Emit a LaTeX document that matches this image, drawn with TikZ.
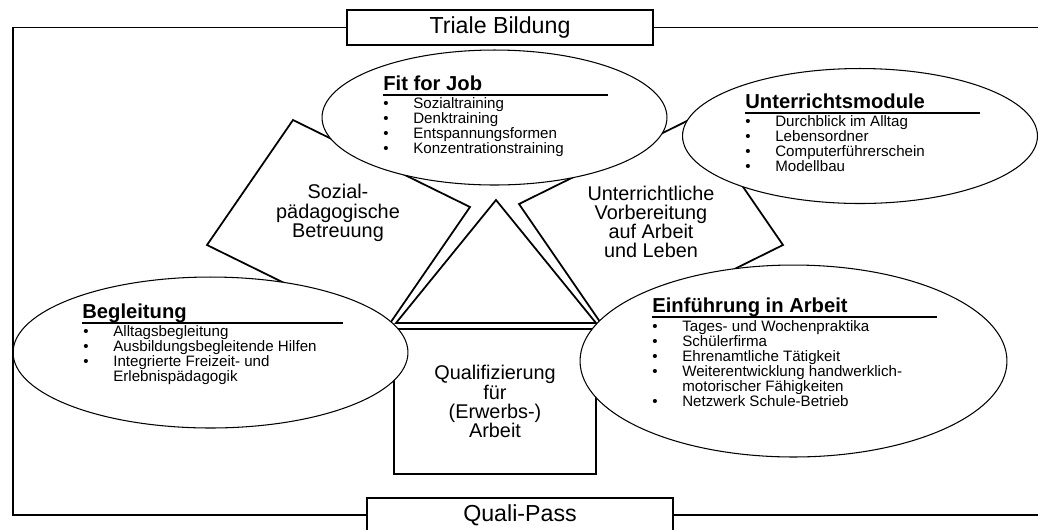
\documentclass[tikz,border=0pt]{standalone}
\usepackage{fontspec}
\setmainfont{Liberation Sans}
\usetikzlibrary{shapes.geometric,positioning}
\newcommand\lpunkt[1]{\makebox[0.6cm][l]{•}#1}
\newcommand\lweiter[1]{\hspace*{0.6cm}#1}

\begin{document}
\begin{tikzpicture}[x=0.02cm, y=-0.02cm,
    box/.style={draw, line width=1pt, inner sep=0pt},
    ell/.style={draw, ellipse, fill=white, line width=0.6pt, inner sep=0pt},
    head/.style={anchor=base west, inner sep=0pt, font=\bfseries\fontsize{11.5}{13}\selectfont},
    list/.style={anchor=north west, inner sep=0pt, align=left, font=\fontsize{8.6}{8.55}\selectfont},
    pillar/.style={align=center, font=\fontsize{11.3}{10.9}\selectfont},
    frame/.style={line width=1pt}]
  \clip (0,0) rectangle (1038,529);

  % two pillars and the roof
  \draw[frame] (293,120) -- (470,207) -- (384,332) -- (207,245) -- cycle;
  \draw[frame] (695,117) -- (783,245) -- (607,332) -- (519,204) -- cycle;
  \draw[frame] (496,200) -- (596,323) -- (396,323) -- cycle;
  \node[box, pillar, minimum width=4.04cm, minimum height=2.9cm] (quali) at (495,401.5) {Qualifizierung\\für\\(Erwerbs-)\\Arbeit};

  \node[pillar] (sozial) at (338,213) {Sozial-\\pädagogische\\Betreuung};
  \node[pillar] (unterricht) at (651,222) {Unterrichtliche\\Vorbereitung\\auf Arbeit\\und Leben};

  % ellipses
  \node[ell, minimum width=6.9cm, minimum height=2.7cm] (fit) at (494.5,117.5) {};
  \node[ell, minimum width=7.1cm, minimum height=2.7cm] (modul) at (860,136) {};
  \node[ell, minimum width=7.9cm, minimum height=3.02cm] (begl) at (210.5,352.5) {};
  \node[ell, minimum width=8.54cm, minimum height=3.84cm] (einf) at (793.5,361) {};

  \node[head] (fithead) at (383,90) {Fit for Job};
  \coordinate (fitrule) at (608,95);
  \draw[line width=0.6pt] (fithead.base west |- fitrule) -- (fitrule);
  \node[list] (fitlist) at (383,97) {\lpunkt{Sozialtraining}\\\lpunkt{Denktraining}\\\lpunkt{Entspannungsformen}\\\lpunkt{Konzentrationstraining}};

  \node[head] (modulhead) at (745,108) {Unterrichtsmodule};
  \coordinate (modulrule) at (980,113);
  \draw[line width=0.6pt] (modulhead.base west |- modulrule) -- (modulrule);
  \node[list] (modullist) at (745,115) {\lpunkt{Durchblick im Alltag}\\\lpunkt{Lebensordner}\\\lpunkt{Computerführerschein}\\\lpunkt{Modellbau}};

  \node[head] (beglhead) at (82,318) {Begleitung};
  \coordinate (beglrule) at (343,323);
  \draw[line width=0.6pt] (beglhead.base west |- beglrule) -- (beglrule);
  \node[list] (begllist) at (83,325) {\lpunkt{Alltagsbegleitung}\\\lpunkt{Ausbildungsbegleitende Hilfen}\\\lpunkt{Integrierte Freizeit- und}\\\lweiter{Erlebnispädagogik}};

  \node[head] (einfhead) at (652,312) {Einführung in Arbeit};
  \coordinate (einfrule) at (937,317);
  \draw[line width=0.6pt] (einfhead.base west |- einfrule) -- (einfrule);
  \node[list] (einflist) at (652,320) {\lpunkt{Tages- und Wochenpraktika}\\\lpunkt{Schülerfirma}\\\lpunkt{Ehrenamtliche Tätigkeit}\\\lpunkt{Weiterentwicklung handwerklich-}\\\lweiter{motorischer Fähigkeiten}\\\lpunkt{Netzwerk Schule-Betrieb}};

  % frame
  \node[box, fill=white, minimum width=6.12cm, minimum height=0.7cm, font=\fontsize{13.2}{15}\selectfont] (triale) at (500,27.5) {Triale Bildung};
  \node[box, fill=white, minimum width=6.12cm, minimum height=0.68cm, font=\fontsize{13.2}{15}\selectfont] (pass) at (520,515) {Quali-Pass};
  \coordinate (obenlinks) at (13,27.5);
  \coordinate (untenlinks) at (13,515);
  \coordinate (obenrechts) at (1038,27.5);
  \coordinate (untenrechts) at (1038,515);
  \draw[frame] (triale.west) -- (obenlinks) -- (untenlinks) -- (pass.west);
  \draw[frame] (triale.east) -- (obenrechts);
  \draw[frame] (pass.east) -- (untenrechts);
\end{tikzpicture}
\end{document}
